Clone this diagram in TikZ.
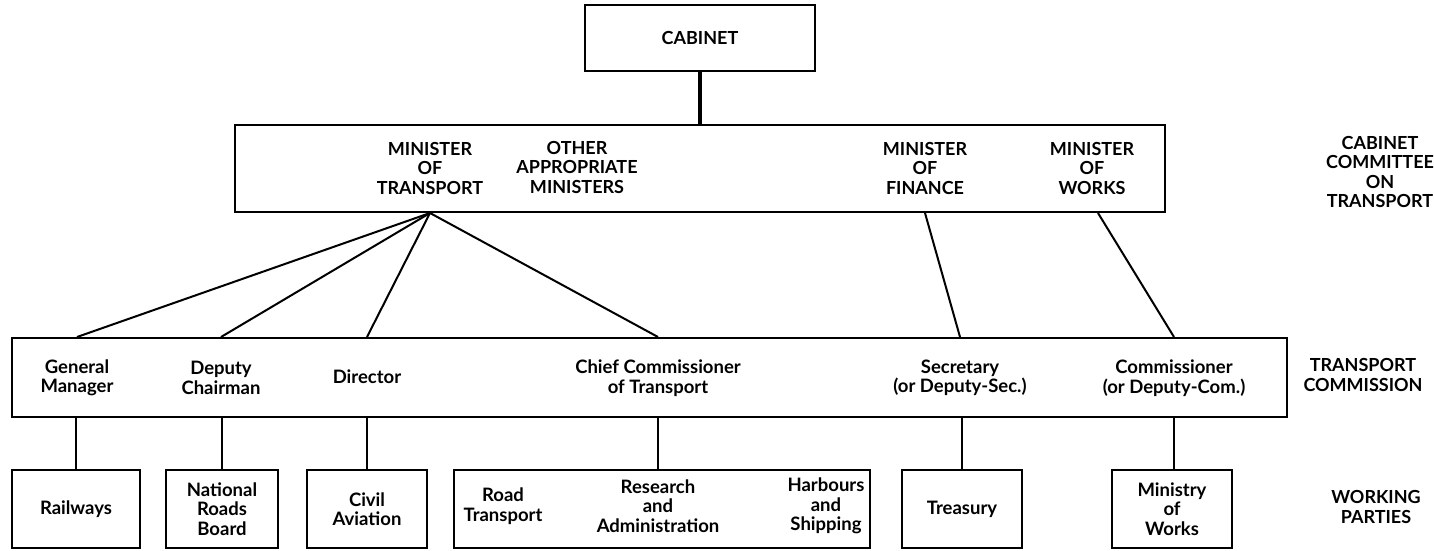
\documentclass[tikz,border=0pt]{standalone}
\usepackage{fontspec}
\setmainfont{Lato}

\begin{document}
\begin{tikzpicture}[x=1pt, y=-1pt, line width=2pt,
    box/.style={draw, minimum width=#1, minimum height=78pt, inner sep=0pt},
    caps/.style={align=center, font=\bfseries\fontsize{18}{19.5}\selectfont},
    txt/.style={align=center, font=\bfseries\fontsize{18.5}{19.5}\selectfont},
    link/.style={line width=2pt}]
    \useasboundingbox (0,0) rectangle (1434,550);

    % Top levels
    \node[box=230pt, minimum height=66pt, caps] (cabinet) at (700,38) {CABINET};
    \node[box=930pt, minimum height=87pt] (cttee) at (700,168.5) {};
    \node[box=1275pt, minimum height=79pt] (comm) at (649.5,377.5) {};

    % Ministers
    \node[caps] (mtrans) at (430,168) {MINISTER\\OF\\TRANSPORT};
    \node[caps] (mother) at (577,167) {OTHER\\APPROPRIATE\\MINISTERS};
    \node[caps] (mfin) at (925,168) {MINISTER\\OF\\FINANCE};
    \node[caps] (mwrk) at (1092,168) {MINISTER\\OF\\WORKS};

    % Commission members
    \node[txt] (gm) at (77,378) {General\\Manager};
    \node[txt] (dc) at (221,378) {Deputy\\Chairman};
    \node[txt] (dir) at (367,377) {Director};
    \node[txt] (chief) at (658,378) {Chief Commissioner\\of Transport};
    \node[txt] (sec) at (960,378) {Secretary\\(or Deputy-Sec.)};
    \node[txt] (com) at (1174,378) {Commissioner\\(or Deputy-Com.)};

    % Working parties
    \node[box=128pt, txt] (rail) at (76,509) {Railways};
    \node[box=112pt, txt] (nrb) at (222,509) {National\\Roads\\Board};
    \node[box=120pt, txt] (civil) at (367,509) {Civil\\Aviation};
    \node[box=416pt] (group) at (662,509) {};
    \node[txt] (road) at (503,506) {Road\\Transport};
    \node[txt] (resad) at (658,506) {Research\\and\\Administration};
    \node[txt] (harb) at (826,506) {Harbours\\and\\Shipping};
    \node[box=120pt, txt] (treas) at (962,509) {Treasury};
    \node[box=120pt, txt] (minw) at (1172,509) {Ministry\\of\\Works};

    % Side labels
    \node[caps] (lcttee) at (1380,172) {CABINET\\COMMITTEE\\ON\\TRANSPORT};
    \node[caps] (lcomm) at (1363,375) {TRANSPORT\\COMMISSION};
    \node[caps] (lwork) at (1376,507) {WORKING\\PARTIES};

    % Connectors
    \draw[line width=4pt] (cabinet) -- (cttee);
    \foreach \m in {gm, dc, dir, chief}
        \draw[link] (mtrans |- cttee.south) -- (\m |- comm.north);
    \draw[link] (mfin |- cttee.south) -- (sec |- comm.north);
    \draw[link] ([xshift=6pt]mwrk |- cttee.south) -- (com |- comm.north);
    \draw[link] (rail |- comm.south) -- (rail.north);
    \draw[link] (nrb |- comm.south) -- (nrb.north);
    \draw[link] (civil |- comm.south) -- (civil.north);
    \draw[link] (resad |- comm.south) -- (resad |- group.north);
    \draw[link] (treas |- comm.south) -- (treas.north);
    \draw[link] (com |- comm.south) -- (com |- minw.north);
\end{tikzpicture}
\end{document}
